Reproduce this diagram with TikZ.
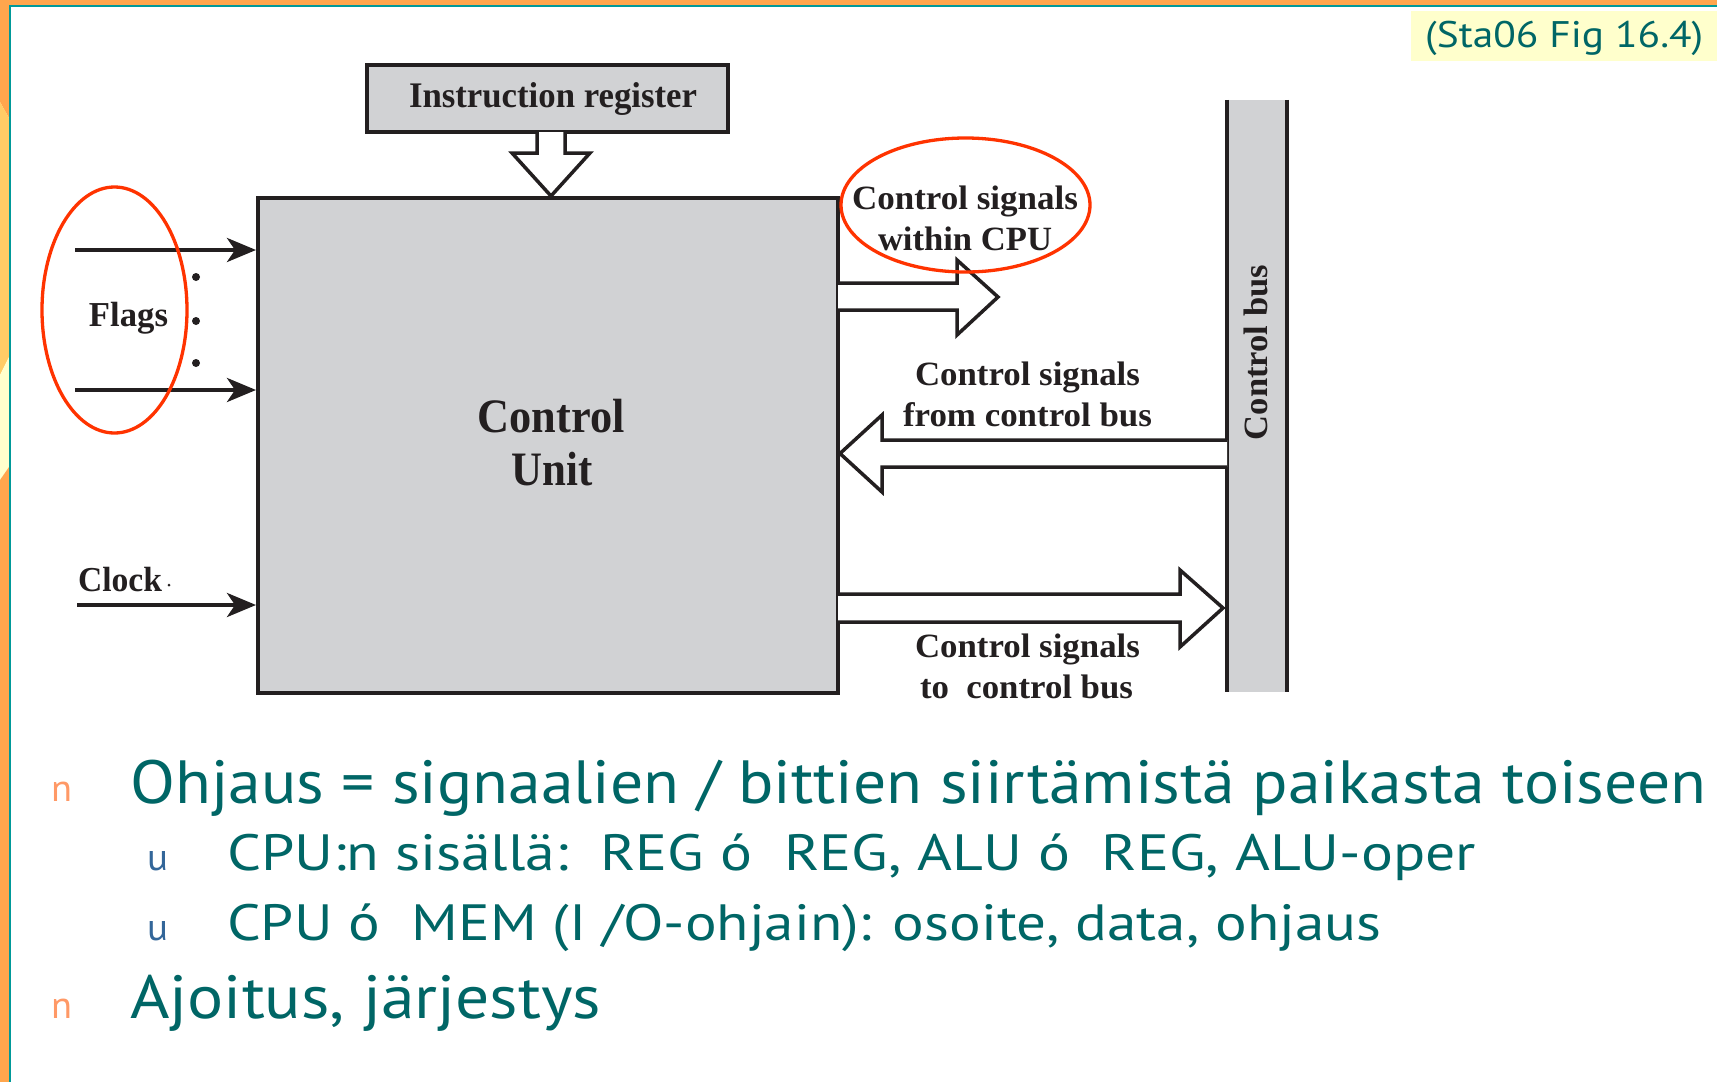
\documentclass[tikz,border=0pt]{standalone}
\usepackage{fontspec}
\usepackage{graphicx}
\usetikzlibrary{arrows.meta}
\newfontfamily\slidefont{PT Sans}
\newfontfamily\figfont{Liberation Serif}
\definecolor{frameorange}{RGB}{255,166,77}
\definecolor{framelight}{RGB}{255,204,102}
\definecolor{framepale}{RGB}{255,255,204}
\definecolor{frameteal}{RGB}{0,153,153}
\definecolor{slideteal}{RGB}{0,102,102}
\definecolor{bulletorange}{RGB}{255,153,102}
\definecolor{bulletblue}{RGB}{51,102,153}
\definecolor{unitgray}{RGB}{209,210,212}
\definecolor{ink}{RGB}{35,31,32}
\definecolor{markred}{RGB}{255,51,0}
% stretch a text horizontally to a given width, keeping its height
\newcommand\fitw[2]{\resizebox{#1pt}{\height}{#2}}

\begin{document}
\begin{tikzpicture}[x=1pt,y=-1pt,
  figtext/.style={font=\figfont\bfseries\fontsize{34}{40}\selectfont, text=ink, inner sep=0pt, anchor=base},
  bigfig/.style={figtext, font=\figfont\bfseries\fontsize{48}{56}\selectfont},
  slidetext/.style={font=\slidefont\fontsize{61}{70}\selectfont, text=slideteal, inner sep=0pt, anchor=base west},
  subtext/.style={slidetext, font=\slidefont\fontsize{51}{60}\selectfont},
  bulletn/.style={font=\slidefont\fontsize{38}{44}\selectfont, text=bulletorange, inner sep=0pt, anchor=base west},
  bulletu/.style={bulletn, text=bulletblue},
  graybox/.style={draw=ink, fill=unitgray, inner sep=0pt},
  hollow/.style={draw=ink, line width=3.5pt, fill=white, line join=miter},
  signal/.style={draw=ink, line width=4pt, -{Stealth[length=29pt,width=24pt,inset=8pt]}},
  redmark/.style={draw=markred, line width=3.3pt},
]
\useasboundingbox (0,0) rectangle (1717,1082);
\fill[white] (0,0) rectangle (1717,1082);

% slide frame
\fill[frameorange] (0,0) rectangle (1717,5.5);
\fill[frameorange] (0,0) -- (9,0) -- (9,118) -- (0,102) -- cycle;
\fill[framelight] (0,102) -- (9,118) -- (9,357) -- (0,375) -- cycle;
\fill[framepale] (0,375) -- (9,357) -- (9,467) -- (0,480) -- cycle;
\fill[frameorange] (0,480) -- (9,467) -- (9,1082) -- (0,1082) -- cycle;
\draw[frameteal, line width=2pt] (10,1082) -- (10,6) -- (1717,6);

% source label
\fill[framepale] (1411,11) rectangle (1717,61);
\node[slidetext, font=\slidefont\fontsize{37}{44}\selectfont] (src) at (1425,47) {\fitw{278}{(Sta06 Fig 16.4)}};

% control unit and instruction register
\node[graybox, line width=4pt, minimum width=580pt, minimum height=495pt] (cu) at (548,445.5) {};
\node[bigfig] (cut1) at (551,432) {\fitw{147}{Control}};
\node[bigfig] (cut2) at (552,485) {\fitw{81}{Unit}};
\node[graybox, line width=3.5pt, minimum width=361pt, minimum height=67pt] (ir) at (547.5,98.5) {};
\node[figtext, font=\figfont\bfseries\fontsize{36}{42}\selectfont] (irt) at (553,107) {\fitw{288}{Instruction register}};

% instruction register feeds the control unit
\filldraw[hollow] (537,132) -- (537,153) -- (512,153) -- (551,196) -- (590,153) -- (565,153) -- (565,132);

% control bus
\node[fill=unitgray, inner sep=0pt, minimum width=60pt, minimum height=592pt] (bus) at (1257,396) {};
\draw[ink, line width=4pt] (bus.north west) -- (bus.south west);
\draw[ink, line width=4pt] (bus.north east) -- (bus.south east);
\node[figtext, rotate=90] (bust) at (1267,352.5) {\fitw{175}{Control bus}};

% flag inputs
\coordinate (f1) at (75,250);
\coordinate (f2) at (75,390);
\coordinate (clk) at (77,605);
\draw[signal] (f1) -- (f1 -| cu.west);
\draw[signal] (f2) -- (f2 -| cu.west);
\draw[signal] (clk) -- (clk -| cu.west);
\fill[ink] (196,277) circle [radius=4];
\fill[ink] (196,321) circle [radius=4];
\fill[ink] (196,363) circle [radius=4];
\node[figtext, font=\figfont\bfseries\fontsize{35}{40}\selectfont] (flags) at (128.5,326) {\fitw{79}{Flags}};
\node[figtext, font=\figfont\bfseries\fontsize{35}{40}\selectfont] (clock) at (120,591) {\fitw{84}{Clock}};
\fill[ink] (169,585) circle [radius=1.5];

% control signals within the CPU
\filldraw[hollow] (838,283) -- (957,283) -- (957,260) -- (998,297) -- (957,335) -- (957,310) -- (838,310);
\node[figtext] (w1) at (965,209) {\fitw{226}{Control signals}};
\node[figtext] (w2) at (965,250) {\fitw{174}{within CPU}};

% control signals from the control bus
\filldraw[hollow] (1227,440) -- (882,440) -- (882,415) -- (840,453.5) -- (882,492) -- (882,467) -- (1227,467);
\node[figtext] (fb1) at (1027.5,385) {\fitw{225}{Control signals}};
\node[figtext] (fb2) at (1027.5,426) {\fitw{249}{from control bus}};

% control signals to the control bus
\filldraw[hollow] (838,594) -- (1180,594) -- (1180,570) -- (1223,608) -- (1180,647) -- (1180,622) -- (838,622);
\node[figtext] (tb1) at (1027.5,657) {\fitw{225}{Control signals}};
\node[figtext] (tb2) at (1026.5,698) {\fitw{213}{to~~control bus}};

% highlight marks
\draw[redmark] (114.5,310) ellipse [x radius=72.5, y radius=123];
\draw[redmark] (965.5,205) ellipse [x radius=124.5, y radius=67];

% bullet text
\node[bulletn] (b1) at (51,801) {\fitw{21}{n}};
\node[slidetext] (l1) at (130,803) {\fitw{1576}{Ohjaus = signaalien / bittien siirtämistä paikasta toiseen}};
\node[bulletu] (b2) at (147,870) {\fitw{21}{u}};
\node[subtext] (l2) at (227,870) {\fitw{1249}{CPU:n sisällä:~~REG ó~~REG, ALU ó~~REG, ALU-oper}};
\node[bulletu] (b3) at (147,940) {\fitw{21}{u}};
\node[subtext] (l3) at (227,940) {\fitw{1154}{CPU ó~~MEM (I /O-ohjain): osoite, data, ohjaus}};
\node[bulletn] (b4) at (51,1018) {\fitw{21}{n}};
\node[slidetext] (l4) at (130,1018) {\fitw{471}{Ajoitus, järjestys}};
\end{tikzpicture}
\end{document}
